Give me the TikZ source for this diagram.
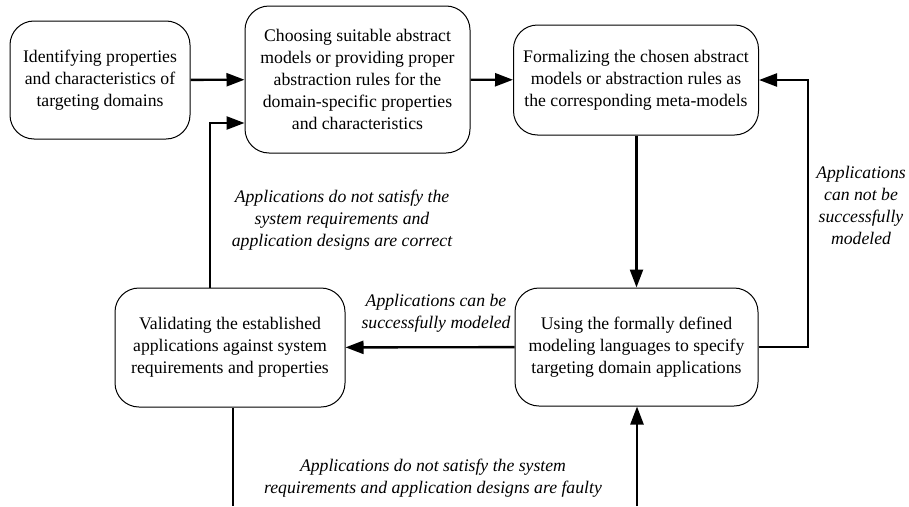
\documentclass[tikz,border=0pt]{standalone}
\usepackage{fontspec}
\setmainfont{Liberation Serif}
\usetikzlibrary{arrows.meta}

\begin{document}
\begin{tikzpicture}[x=1pt,y=-1pt,
        stage/.style={draw, line width=1pt, rounded corners=24pt, align=center, inner sep=0pt,
            font=\fontsize{17.7}{22}\selectfont},
        note/.style={align=center, font=\fontsize{17.7}{22}\selectfont\itshape},
        flow/.style={line width=2.4pt, -{Triangle[length=18pt,width=13pt]}},
        wire/.style={line width=2.4pt}]
    \useasboundingbox (0,0) rectangle (909,506);
    \node[stage, minimum width=180pt, minimum height=118pt] (ident) at (100,80) {Identifying properties\\and characteristics of\\targeting domains};
    \node[stage, minimum width=225pt, minimum height=147pt] (choose) at (357.5,79.5) {Choosing suitable abstract\\models or providing proper\\abstraction rules for the\\domain-specific properties\\and characteristics};
    \node[stage, minimum width=245pt, minimum height=110pt] (formal) at (636,80) {Formalizing the chosen abstract\\models or abstraction rules as\\the corresponding meta-models};
    \node[stage, minimum width=230pt, minimum height=119pt] (valid) at (230,347.5) {Validating the established\\applications against system\\requirements and properties};
    \node[stage, minimum width=243pt, minimum height=118pt] (spec) at (636.5,347) {Using the formally defined\\modeling languages to specify\\targeting domain applications};
    \coordinate (back) at (210,123);
    \coordinate (side) at (808,0);
    \coordinate (outL) at (233,506);
    \coordinate (outR) at (637,506);
    \draw[flow] (ident) -- (choose);
    \draw[flow] (choose) -- (formal);
    \draw[flow] (formal.south -| spec.north) -- (spec.north);
    \draw[flow] (spec) -- (valid);
    \draw[flow] (spec.east) -| (side |- formal.east) -- (formal.east);
    \draw[flow] (valid.north -| back) |- (back -| choose.west);
    \draw[wire] (valid.south -| outL) -- (outL);
    \draw[flow] (outR) -- (outR |- spec.south);
    \node[note] (correct) at (342,220) {Applications do not satisfy the\\system requirements and\\application designs are correct};
    \node[note] (can) at (436,313) {Applications can be\\successfully modeled};
    \node[note] (cannot) at (861,205) {Applications\\can not be\\successfully\\modeled};
    \node[note] (faulty) at (433,478) {Applications do not satisfy the system\\requirements and application designs are faulty};
\end{tikzpicture}
\end{document}
